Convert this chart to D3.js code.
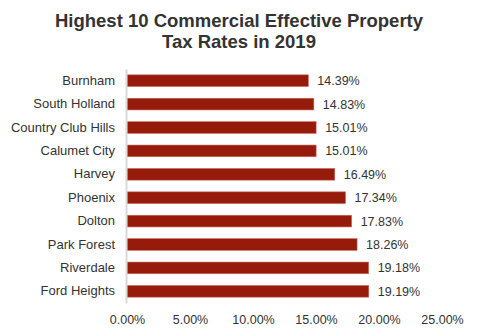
<!DOCTYPE html>
<html>
<head>
<meta charset="utf-8">
<script src="https://cdn.jsdelivr.net/npm/d3@7"></script>
<style>
  body { margin: 0; background: #fff; }
  text { font-family: "Liberation Sans", Arial, sans-serif; fill: #333; }
</style>
</head>
<body>
<div id="chart"></div>
<script>
const towns = ['Burnham', 'South Holland', 'Country Club Hills', 'Calumet City', 'Harvey',
    'Phoenix', 'Dolton', 'Park Forest', 'Riverdale', 'Ford Heights'];
const rates = [14.39, 14.83, 15.01, 15.01, 16.49, 17.34, 17.83, 18.26, 19.18, 19.19];
const xTicks = [0, 5, 10, 15, 20, 25];

const width = 479, height = 335;
const plotLeft = 127, plotRight = 442, plotTop = 69, plotBottom = 303;

const svg = d3.select('#chart').append('svg')
    .attr('width', width)
    .attr('height', height);

svg.append('text')
    .attr('text-anchor', 'middle')
    .style('font-size', '18.5px')
    .style('font-weight', 'bold')
    .selectAll('tspan')
    .data(['Highest 10 Commercial Effective Property', 'Tax Rates in 2019'])
    .join('tspan')
    .attr('x', 239)
    .attr('y', (d, i) => 27 + i * 20.5)
    .text(d => d);

const x = d3.scaleLinear().domain([0, 25]).range([plotLeft, plotRight]);
const y = d3.scaleBand().domain(towns).range([plotTop, plotBottom]).paddingInner(0.5).paddingOuter(0.25);

// bars
svg.append('g')
    .selectAll('rect')
    .data(towns)
    .join('rect')
    .attr('x', x(0))
    .attr('y', d => y(d))
    .attr('width', (d, i) => x(rates[i]) - x(0))
    .attr('height', y.bandwidth())
    .attr('fill', '#971b0b')
    .attr('stroke', '#c86a5e')
    .attr('stroke-width', 0.6);

// value labels
svg.append('g')
    .selectAll('text')
    .data(towns)
    .join('text')
    .attr('x', (d, i) => x(rates[i]) + 9)
    .attr('y', d => y(d) + y.bandwidth() / 2)
    .attr('dy', '0.36em')
    .style('font-size', '12.5px')
    .text((d, i) => rates[i].toFixed(2) + '%');

// category axis
const yAxis = svg.append('g')
    .attr('transform', `translate(${plotLeft - 1},0)`)
    .call(d3.axisLeft(y).tickSize(0).tickPadding(11));
yAxis.select('.domain').attr('stroke', '#d9d9d9').attr('stroke-width', 2);
yAxis.selectAll('text').style('font-size', '13px').attr('fill', '#333');

// value axis, no line
const xAxis = svg.append('g')
    .attr('transform', `translate(0,${plotBottom})`)
    .call(d3.axisBottom(x).tickValues(xTicks).tickSize(0).tickPadding(12)
        .tickFormat(d => d.toFixed(2) + '%'));
xAxis.select('.domain').remove();
xAxis.selectAll('text').style('font-size', '12.5px').attr('fill', '#333');
</script>
</body>
</html>
